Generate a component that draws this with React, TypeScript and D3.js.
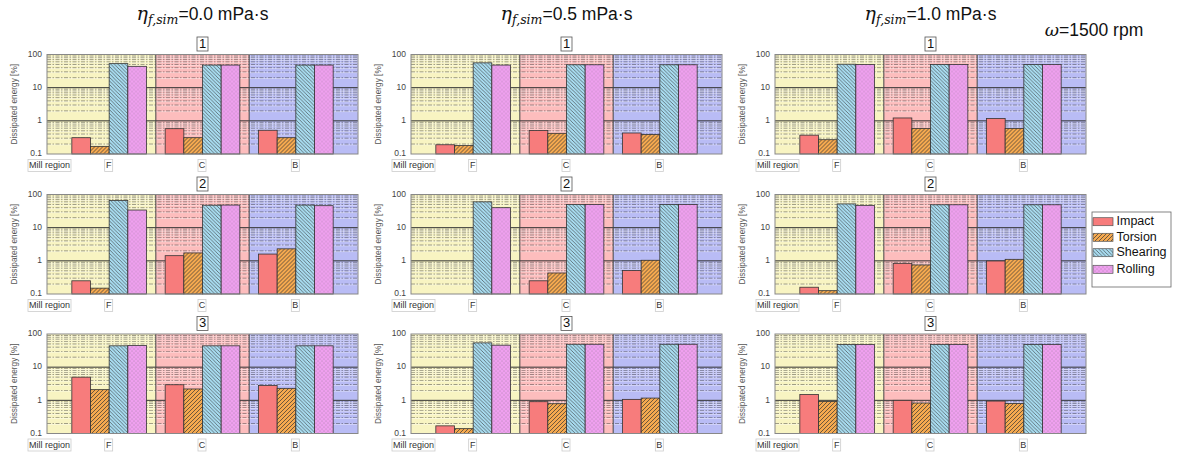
import React from "react";
import * as d3 from "d3";

// ---- data ----
const regions = ["F", "C", "B"];
const mechanisms = ["Impact", "Torsion", "Shearing", "Rolling"];
const viscosities = ["0.0", "0.5", "1.0"];
const cases = ["1", "2", "3"];
const yTicks = [0.1, 1, 10, 100];

// rows = case 1..3, columns = regions F, C, B
const impact00 = [[0.31, 0.58, 0.52], [0.25, 1.43, 1.6], [5.0, 2.95, 2.8]];
const torsion00 = [[0.17, 0.31, 0.31], [0.15, 1.73, 2.3], [2.1, 2.2, 2.3]];
const shearing00 = [[53, 48, 48], [66, 47.5, 48], [44, 44, 44]];
const rolling00 = [[44, 48, 48], [34, 48, 46], [45, 44, 44]];

const impact05 = [[0.19, 0.51, 0.43], [null, 0.25, 0.51], [0.17, 0.91, 1.07]];
const torsion05 = [[0.18, 0.42, 0.39], [null, 0.43, 1.04], [0.14, 0.79, 1.17]];
const shearing05 = [[56, 49, 49], [60, 50, 50], [54, 49, 49]];
const rolling05 = [[48, 49, 49], [40, 50, 50], [46, 49, 49]];

const impact10 = [[0.37, 1.22, 1.18], [0.16, 0.84, 0.99], [1.5, 1.0, 0.95]];
const torsion10 = [[0.27, 0.59, 0.59], [0.126, 0.75, 1.11], [0.93, 0.83, 0.8]];
const shearing10 = [[51, 50, 50], [52, 49, 49], [48, 48, 48]];
const rolling10 = [[50, 50, 50], [47, 49, 49], [48, 48, 48]];

const dataByViscosity = [
  [impact00, torsion00, shearing00, rolling00],
  [impact05, torsion05, shearing05, rolling05],
  [impact10, torsion10, shearing10, rolling10],
];

// ---- styles ----
const fills = ["#F77C7C", "url(#torsionHatch)", "url(#shearHatch)", "url(#rollDots)"];
const regionBg = ["#F8F4C2", "#FDBDBD", "#B9BCF5"];
const SANS = "'Liberation Sans', Arial, sans-serif";

const lefts = [47, 411, 775];
const tops = [54.5, 194.5, 334];
const W = 311;
const H = 99.5;

const minorVals: number[] = [];
[0.1, 1, 10].forEach((d) => {
  for (let k = 2; k <= 9; k++) minorVals.push(d * k);
});

function Panel({ col, row }: { col: number; row: number }) {
  const left = lefts[col];
  const top = tops[row];
  const x = d3.scaleBand<string>().domain(regions).range([15.5, W - 15.5]);
  const inner = d3
    .scaleBand<string>()
    .domain(mechanisms)
    .range([x.bandwidth() * 0.1, x.bandwidth() * 0.9]);
  const y = d3.scaleLog().domain([0.1, 100]).range([H, 0]);
  const series = dataByViscosity[col];
  const bounds = [0, x("C")!, x("B")!, W];
  return (
    <g transform={`translate(${left},${top})`}>
      {regions.map((r, i) => (
        <rect key={r} x={bounds[i]} y={0} width={bounds[i + 1] - bounds[i]} height={H} fill={regionBg[i]} />
      ))}
      {minorVals.map((v) => (
        <g key={v}>
          <line x1={0} x2={W} y1={y(v) + 0.8} y2={y(v) + 0.8} stroke="#fff" strokeWidth={0.7} opacity={0.6} />
          <line x1={0} x2={W} y1={y(v)} y2={y(v)} stroke="#333" strokeWidth={0.6} strokeDasharray="4,1.5,1.5,1.5" opacity={0.75} />
        </g>
      ))}
      {[1, 10].map((v) => (
        <line key={v} x1={0} x2={W} y1={y(v)} y2={y(v)} stroke="#333" strokeWidth={1} />
      ))}
      {[x("C")!, x("B")!].map((bx, i) => (
        <line key={i} x1={bx} x2={bx} y1={0} y2={H} stroke="#444" strokeWidth={1} />
      ))}
      {regions.map((r, ri) =>
        mechanisms.map((m, mi) => {
          const v = series[mi][row][ri];
          if (v == null || v <= 0.1) return null;
          const bx = x(r)! + inner(m)!;
          return (
            <rect
              key={r + m}
              x={bx}
              y={y(v)}
              width={inner.bandwidth()}
              height={H - y(v)}
              fill={fills[mi]}
              stroke="#333"
              strokeWidth={0.8}
            />
          );
        })
      )}
      <rect x={0} y={0} width={W} height={H} fill="none" stroke="#888" strokeWidth={1} />
      {yTicks.map((t) => (
        <text key={t} x={-5} y={y(t)} textAnchor="end" dominantBaseline="middle" fontSize={8.5} fill="#444" fontFamily={SANS}>
          {t}
        </text>
      ))}
      <text
        transform={`translate(-32,${H / 2}) rotate(-90)`}
        textAnchor="middle"
        dominantBaseline="middle"
        fontSize={8.3}
        fill="#555"
        fontFamily={SANS}
      >
        Dissipated energy [%]
      </text>
      {/* case title */}
      <rect x={W / 2 - 5.5} y={-17.5} width={11} height={14} fill="#fff" stroke="#555" strokeWidth={0.8} />
      <text x={W / 2} y={-10.3} textAnchor="middle" dominantBaseline="middle" fontSize={13} fontFamily={SANS} fill="#111">
        {cases[row]}
      </text>
      {/* category labels */}
      <g fontFamily={SANS} fontSize={9} fill="#333">
        <rect x={-19} y={H + 5.5} width={43} height={12} fill="none" stroke="#ccc" strokeWidth={0.8} />
        <text x={-18} y={H + 11.8} dominantBaseline="middle">Mill region</text>
        {regions.map((r) => (
          <g key={r}>
            <rect x={x(r)! + x.bandwidth() / 2 - 4.5} y={H + 5.5} width={8} height={12} fill="none" stroke="#ccc" strokeWidth={0.8} />
            <text x={x(r)! + x.bandwidth() / 2 - 0.5} y={H + 11.8} textAnchor="middle" dominantBaseline="middle">
              {r}
            </text>
          </g>
        ))}
      </g>
    </g>
  );
}

export default function App() {
  const legendY = [221.7, 237.3, 252.7, 269.3];
  return (
    <svg width={1182} height={457} style={{ position: "absolute", left: 0, top: 0, background: "#fff" }}>
      <defs>
        <pattern id="torsionHatch" patternUnits="userSpaceOnUse" width={4} height={4}>
          <rect width={4} height={4} fill="#F5A94F" />
          <path d="M-1,1 l2,-2 M0,4 l4,-4 M3,5 l2,-2" stroke="#333" strokeWidth={0.7} />
        </pattern>
        <pattern id="shearHatch" patternUnits="userSpaceOnUse" width={3.6} height={3.6}>
          <rect width={3.6} height={3.6} fill="#A8DCF0" />
          <path d="M-0.9,2.7 l1.8,1.8 M0,0 l3.6,3.6 M2.7,-0.9 l1.8,1.8" stroke="#333" strokeWidth={0.6} />
        </pattern>
        <pattern id="rollDots" patternUnits="userSpaceOnUse" width={4} height={4}>
          <rect width={4} height={4} fill="#EFA0EF" />
          <circle cx={1} cy={1} r={0.45} fill="#666" />
          <circle cx={3} cy={3} r={0.45} fill="#666" />
        </pattern>
      </defs>
      {viscosities.map((v, c) => (
        <text key={v} x={lefts[c] + W / 2} y={20} textAnchor="middle" fontSize={17.5} fontFamily={SANS} fill="#111">
          <tspan fontFamily="'DejaVu Serif', serif" fontStyle="italic" fontSize={19}>η</tspan>
          <tspan fontFamily="'DejaVu Serif', serif" fontStyle="italic" fontSize={12.5} dy={4}>f,sim</tspan>
          <tspan dy={-4}>={v} mPa·s</tspan>
        </text>
      ))}
      <text x={1094} y={36} textAnchor="middle" fontSize={17.5} fontFamily={SANS} fill="#111">
        <tspan fontFamily="'DejaVu Serif', serif" fontStyle="italic">ω</tspan>
        <tspan>=1500 rpm</tspan>
      </text>
      {viscosities.map((v, c) => cases.map((cs, r) => <Panel key={v + cs} col={c} row={r} />))}
      <rect x={1092} y={212} width={79} height={75} fill="#fff" stroke="#666" strokeWidth={0.8} />
      {mechanisms.map((m, i) => (
        <g key={m}>
          <rect x={1093} y={legendY[i] - 4} width={20} height={8} fill={fills[i]} stroke="#555" strokeWidth={0.7} />
          <text x={1116.5} y={legendY[i]} dominantBaseline="middle" fontSize={12.5} fontFamily={SANS} fill="#111">
            {m}
          </text>
        </g>
      ))}
    </svg>
  );
}
